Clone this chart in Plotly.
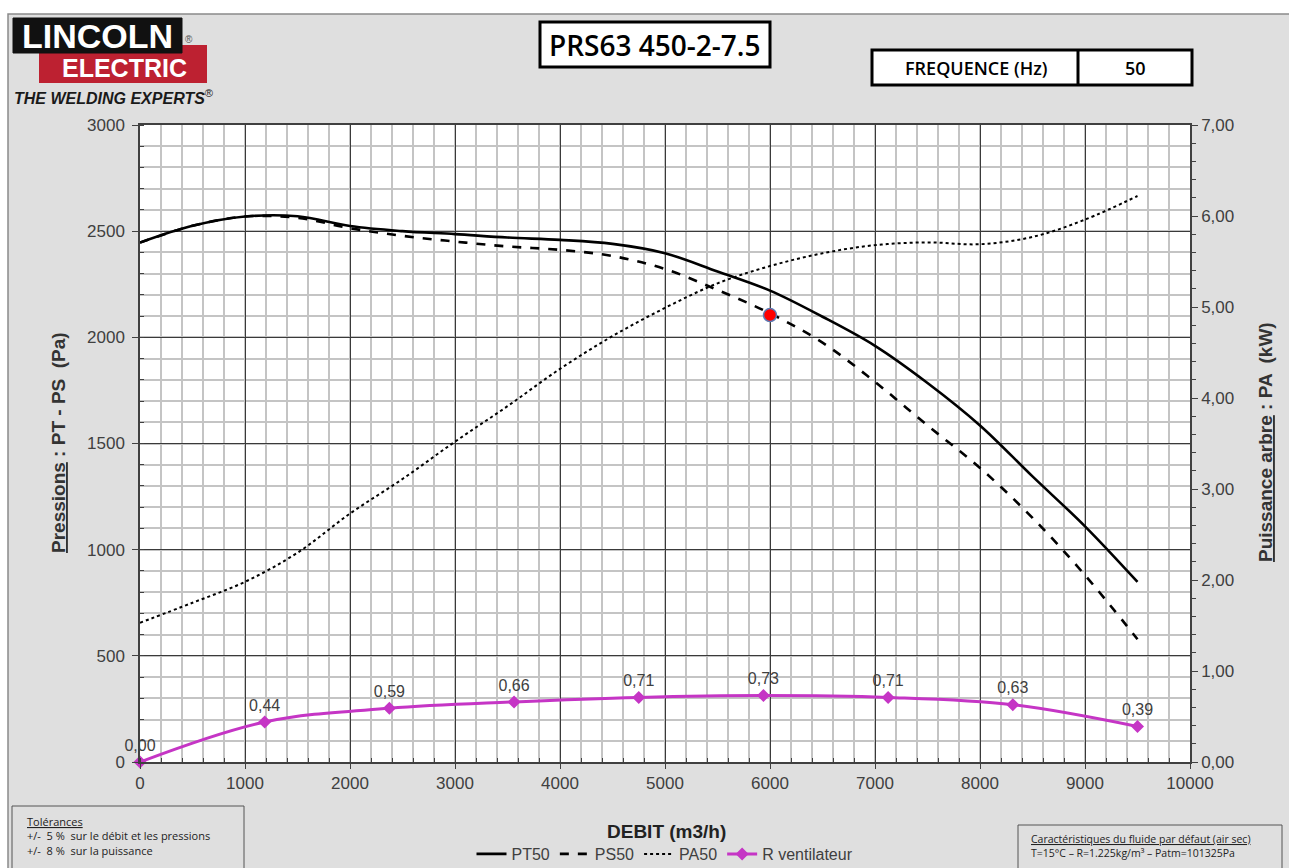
import plotly.graph_objects as go

# ---------------- data ----------------
debit = [0, 500, 1000, 1500, 2000, 2500, 3000, 3500, 4000, 4500,
         5000, 5500, 6000, 6500, 7000, 7500, 8000, 8500, 9000, 9500]
pt50 = [2446, 2525, 2569, 2570, 2524, 2500, 2486, 2470, 2459, 2440,
        2396, 2310, 2220, 2097, 1960, 1785, 1585, 1345, 1110, 848]
ps50 = [2446, 2525, 2569, 2563, 2514, 2478, 2451, 2428, 2412, 2383,
        2322, 2223, 2113, 1975, 1790, 1585, 1385, 1150, 880, 578]
pa50 = [1.53, 1.75, 1.98, 2.30, 2.73, 3.11, 3.52, 3.91, 4.32, 4.68,
        4.99, 5.26, 5.45, 5.59, 5.68, 5.71, 5.69, 5.77, 5.96, 6.22]
r_debit = [0, 1187.5, 2375, 3562.5, 4750, 5937.5, 7125, 8312.5, 9500]
r_vent = [0.00, 0.44, 0.59, 0.66, 0.71, 0.73, 0.71, 0.63, 0.39]
point_debit = [6000]
point_pression = [2105]

x_ticks = [0, 1000, 2000, 3000, 4000, 5000, 6000, 7000, 8000, 9000, 10000]
x_labels = [str(v) for v in x_ticks]
y_ticks = [0, 500, 1000, 1500, 2000, 2500, 3000]
y2_ticks = [0, 1, 2, 3, 4, 5, 6, 7]
y2_labels = ["0,00", "1,00", "2,00", "3,00", "4,00", "5,00", "6,00", "7,00"]
r_labels = [f"{v:.2f}".replace(".", ",") for v in r_vent]

# ---------------- geometry helpers ----------------
W, H = 1289, 868
L, R, T, B = 140, 1190, 125, 762


def xp(px):
    return (px - L) / (R - L)


def yp(py):
    return (B - py) / (B - T)


TXT = "#404040"
FONT = "Liberation Sans"

fig = go.Figure()

fig.add_trace(go.Scatter(x=debit, y=pt50, name="PT50", mode="lines",
                         line=dict(color="black", width=2.6, shape="spline")))
fig.add_trace(go.Scatter(x=debit, y=ps50, name="PS50", mode="lines",
                         line=dict(color="black", width=2.6, dash="dash", shape="spline")))
fig.add_trace(go.Scatter(x=debit, y=pa50, name="PA50", mode="lines", yaxis="y2",
                         line=dict(color="black", width=2, dash="dot", shape="spline")))
fig.add_trace(go.Scatter(x=r_debit, y=r_vent, name="R ventilateur", yaxis="y2",
                         mode="lines+markers+text", text=r_labels,
                         textposition="top center", cliponaxis=False,
                         textfont=dict(family=FONT, size=16, color=TXT),
                         line=dict(color="#c535c5", width=3, shape="spline"),
                         marker=dict(symbol="diamond", size=10, color="#c535c5")))
fig.add_trace(go.Scatter(x=point_debit, y=point_pression, mode="markers", showlegend=False,
                         marker=dict(size=13, color="#ff0000",
                                     line=dict(color="#5b7bb5", width=1.5))))

shapes = []
annotations = []

# background frame
shapes.append(dict(type="rect", xref="paper", yref="paper", layer="below",
                   x0=xp(-5), x1=xp(8), y0=yp(900), y1=yp(-5),
                   fillcolor="white", line=dict(width=0)))
shapes.append(dict(type="rect", xref="paper", yref="paper", layer="below",
                   x0=xp(-5), x1=xp(1300), y0=yp(14), y1=yp(-5),
                   fillcolor="white", line=dict(width=0)))
shapes.append(dict(type="rect", xref="paper", yref="paper",
                   x0=xp(8), x1=xp(1300), y0=yp(900), y1=yp(14),
                   line=dict(color="#8a8a8a", width=1.5)))

# logo
shapes.append(dict(type="rect", xref="paper", yref="paper",
                   x0=xp(39), x1=xp(207), y0=yp(83), y1=yp(45),
                   fillcolor="#bd2131", line=dict(width=0)))
shapes.append(dict(type="rect", xref="paper", yref="paper",
                   x0=xp(13), x1=xp(182), y0=yp(53), y1=yp(18),
                   fillcolor="#111111", line=dict(color="#111111", width=1)))
annotations.append(dict(text="<b>LINCOLN</b>", x=xp(97), y=yp(36), xref="paper", yref="paper",
                        showarrow=False, xanchor="center", yanchor="middle",
                        font=dict(family=FONT, size=34, color="white")))
annotations.append(dict(text="®", x=xp(189), y=yp(39), xref="paper", yref="paper",
                        showarrow=False, xanchor="center", yanchor="middle",
                        font=dict(family=FONT, size=10, color="#555555")))
annotations.append(dict(text="<b>ELECTRIC</b>", x=xp(124), y=yp(68), xref="paper", yref="paper",
                        showarrow=False, xanchor="center", yanchor="middle",
                        font=dict(family=FONT, size=25, color="white")))
annotations.append(dict(text="<b><i>THE WELDING EXPERTS</i></b><sup>®</sup>", x=xp(12), y=yp(97),
                        xref="paper", yref="paper", showarrow=False,
                        xanchor="left", yanchor="middle",
                        font=dict(family=FONT, size=16, color="#1a1a1a")))

# title box
shapes.append(dict(type="rect", xref="paper", yref="paper",
                   x0=xp(540), x1=xp(770), y0=yp(67), y1=yp(22),
                   fillcolor="white", line=dict(color="black", width=3)))
annotations.append(dict(text="PRS63 450-2-7.5", x=xp(655), y=yp(45), xref="paper", yref="paper",
                        showarrow=False, xanchor="center", yanchor="middle",
                        font=dict(family="Open Sans", size=28, color="black", weight=600)))

# frequency box
shapes.append(dict(type="rect", xref="paper", yref="paper",
                   x0=xp(872), x1=xp(1192), y0=yp(85), y1=yp(50),
                   fillcolor="white", line=dict(color="black", width=3)))
shapes.append(dict(type="line", xref="paper", yref="paper",
                   x0=xp(1078), x1=xp(1078), y0=yp(85), y1=yp(50),
                   line=dict(color="black", width=3)))
annotations.append(dict(text="FREQUENCE (Hz)", x=xp(976), y=yp(68), xref="paper", yref="paper",
                        showarrow=False, xanchor="center", yanchor="middle",
                        font=dict(family="Open Sans", size=18, color="black", weight=600)))
annotations.append(dict(text="50", x=xp(1135), y=yp(68), xref="paper", yref="paper",
                        showarrow=False, xanchor="center", yanchor="middle",
                        font=dict(family="Open Sans", size=18, color="black", weight=600)))

# tolerance box
shapes.append(dict(type="rect", xref="paper", yref="paper",
                   x0=xp(12), x1=xp(244), y0=yp(890), y1=yp(806),
                   line=dict(color="#555555", width=1)))
annotations.append(dict(text="<u>Tolérances</u><br>+/-  5 %  sur le débit et les pressions<br>+/-  8 %  sur la puissance",
                        x=xp(25), y=yp(812), xref="paper", yref="paper", showarrow=False,
                        xanchor="left", yanchor="top", align="left",
                        font=dict(family="Open Sans", size=11, color="#222222")))

# fluid box
shapes.append(dict(type="rect", xref="paper", yref="paper",
                   x0=xp(1018), x1=xp(1282), y0=yp(890), y1=yp(825),
                   line=dict(color="#555555", width=1)))
annotations.append(dict(text="<u>Caractéristiques du fluide par défaut (air sec)</u><br>T=15°C – R=1.225kg/m³ – Patm=101325Pa",
                        x=xp(1029), y=yp(830), xref="paper", yref="paper", showarrow=False,
                        xanchor="left", yanchor="top", align="left",
                        font=dict(family="Open Sans", size=10.5, color="#222222")))

# axis titles
annotations.append(dict(text="<b><u>Pressions</u> : PT - PS  (Pa)</b>", x=xp(58), y=yp(443),
                        xref="paper", yref="paper", showarrow=False, textangle=-90,
                        xanchor="center", yanchor="middle",
                        font=dict(family=FONT, size=19, color="#333333")))
annotations.append(dict(text="<b><u>Puissance arbre</u> : PA  (kW)</b>", x=xp(1265), y=yp(442),
                        xref="paper", yref="paper", showarrow=False, textangle=-90,
                        xanchor="center", yanchor="middle",
                        font=dict(family=FONT, size=19, color="#333333")))
annotations.append(dict(text="<b>DEBIT (m3/h)</b>", x=xp(666), y=yp(831),
                        xref="paper", yref="paper", showarrow=False,
                        xanchor="center", yanchor="middle",
                        font=dict(family=FONT, size=19, color="#222222")))

fig.update_layout(
    width=W, height=H,
    margin=dict(l=L, r=W - R, t=T, b=H - B, pad=0, autoexpand=False),
    paper_bgcolor="#dfdfdf",
    plot_bgcolor="white",
    font=dict(family=FONT, size=16, color=TXT),
    shapes=shapes,
    annotations=annotations,
    showlegend=True,
    legend=dict(orientation="h", x=0.5, xanchor="center", y=yp(854), yanchor="middle",
                bgcolor="rgba(0,0,0,0)", font=dict(family=FONT, size=16, color=TXT),
                tracegroupgap=0),
    xaxis=dict(range=[0, 10000], tickvals=x_ticks, ticktext=x_labels, showgrid=True,
               gridcolor="#3a3a3a", gridwidth=1, zeroline=False,
               showline=True, linecolor="#404040", linewidth=1.5, mirror=True,
               ticks="outside", ticklen=5, tickcolor="#404040",
               tickfont=dict(family=FONT, size=17, color=TXT),
               minor=dict(dtick=200, showgrid=True, gridcolor="#c4c4c4", gridwidth=1.5,
                          ticks="inside", ticklen=4, tickcolor="#404040")),
    yaxis=dict(range=[0, 3000], tickvals=y_ticks, showgrid=True,
               gridcolor="#3a3a3a", gridwidth=1, zeroline=False,
               showline=True, linecolor="#404040", linewidth=1.5,
               ticks="outside", ticklen=6, tickcolor="#404040", ticklabelstandoff=4,
               tickfont=dict(family=FONT, size=17, color=TXT),
               minor=dict(dtick=100, showgrid=True, gridcolor="#c4c4c4", gridwidth=1.5,
                          ticks="inside", ticklen=4, tickcolor="#404040")),
    yaxis2=dict(range=[0, 7], overlaying="y", side="right", tickvals=y2_ticks,
                ticktext=y2_labels, showgrid=False, zeroline=False,
                showline=True, linecolor="#404040", linewidth=1.5,
                ticks="outside", ticklen=6, tickcolor="#404040",
                tickfont=dict(family=FONT, size=17, color=TXT),
                minor=dict(dtick=0.2, ticks="outside", ticklen=4, tickcolor="#404040")),
)

fig.write_html("out.html", config={"displayModeBar": False},
               post_script="document.body.style.margin='0px';")
